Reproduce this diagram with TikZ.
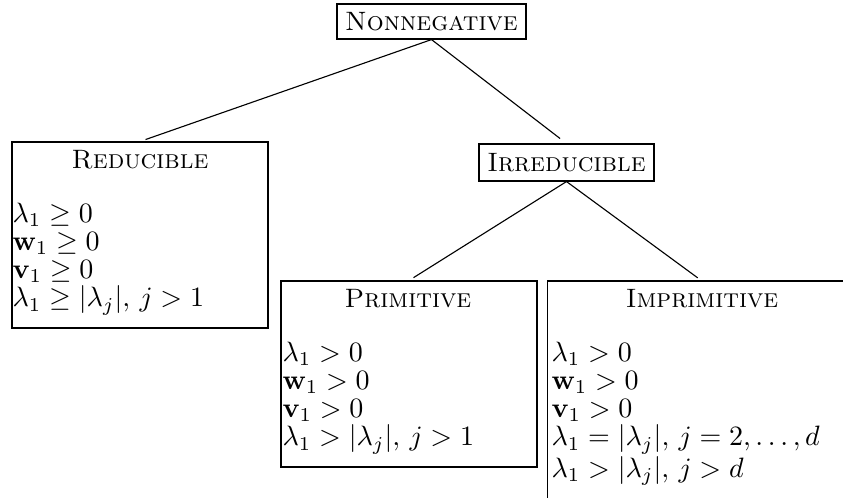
\documentclass[tikz,border=0pt]{standalone}
\usepackage{amsmath,amssymb}
\begin{document}
\begin{tikzpicture}[x=0.3571pt,y=-0.3571pt,
  box/.style={draw,line width=0.4pt,inner sep=0pt,font=\fontsize{9.5}{10}\selectfont},
  title/.style={inner sep=0pt,font=\fontsize{9.5}{10}\selectfont},
  body/.style={inner sep=0pt,align=left,anchor=north west,font=\fontsize{10}{10.1}\selectfont},
  link/.style={line width=0.4pt}]
\clip (0,0) rectangle (843,497);
\node[box,minimum width=67.5pt,minimum height=12.5pt] (nn) at (431.5,21.5) {\textsc{Nonnegative}};
\node[box,minimum width=91.4pt,minimum height=66.4pt] (red) at (140,235) {};
\node[title] (redt) at (140,160) {\textsc{Reducible}};
\node[body] (redb) at (12,202) {$\lambda_1\geq 0$\\$\mathbf{w}_1\geq 0$\\$\mathbf{v}_1\geq 0$\\$\lambda_1\geq|\lambda_j|,\, j>1$};
\node[box,minimum width=62.5pt,minimum height=13.2pt] (irr) at (566.5,162.5) {\textsc{Irreducible}};
\node[box,minimum width=91.4pt,minimum height=66.4pt] (pri) at (409,374) {};
\node[title] (prit) at (408,299) {\textsc{Primitive}};
\node[body] (prib) at (282,341) {$\lambda_1> 0$\\$\mathbf{w}_1> 0$\\$\mathbf{v}_1> 0$\\$\lambda_1>|\lambda_j|,\, j>1$};
\node[box,minimum width=142.9pt,minimum height=85.7pt] (imp) at (748,401) {};
\coordinate (imptop) at (702,281);
\node[title] (impt) at (702,299) {\textsc{Imprimitive}};
\node[body] (impb) at (551,341) {$\lambda_1> 0$\\$\mathbf{w}_1> 0$\\$\mathbf{v}_1> 0$\\$\lambda_1=|\lambda_j|,\, j=2,\ldots,d$\\$\lambda_1>|\lambda_j|,\, j>d$};
\draw[link,shorten >=2.1pt] (nn.south) -- (red.north);
\draw[link,shorten >=2.9pt] (nn.south) -- (irr.north);
\draw[link,shorten >=1.9pt] (irr.south) -- (pri.north);
\draw[link,shorten >=1.9pt] (irr.south) -- (imptop);
\end{tikzpicture}
\end{document}
